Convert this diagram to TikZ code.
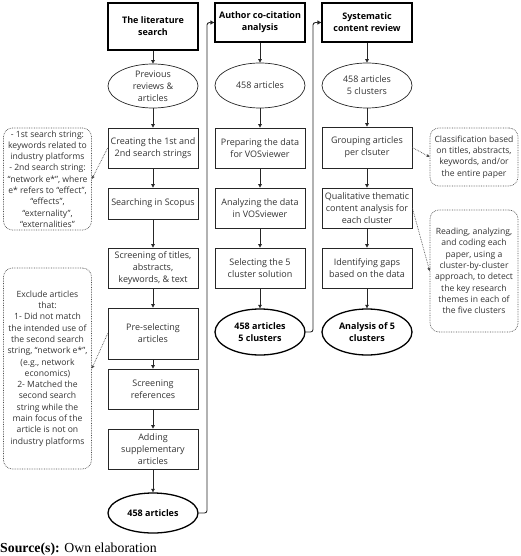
\documentclass[tikz,border=0pt]{standalone}
\usepackage{fontspec}
\setmainfont{Open Sans}
\newfontfamily\srcfont{Liberation Serif}
\usetikzlibrary{shapes.geometric,arrows.meta}
\begin{document}
\begin{tikzpicture}[x=1pt,y=-1pt,
  every node/.style={text=black!80},
  box/.style={draw=black!85, line width=0.7pt, minimum width=90pt, align=center, inner sep=1pt, font=\fontsize{9}{12}\selectfont},
  titlebox/.style={box, draw=black, line width=1.3pt, text=black, font=\fontsize{9}{12}\selectfont\bfseries},
  oval/.style={ellipse, draw=black!85, line width=0.7pt, minimum width=90pt, inner sep=0pt, align=center, font=\fontsize{9}{12}\selectfont},
  bigoval/.style={oval, draw=black, line width=1.3pt, text=black, font=\fontsize{9}{12}\selectfont\bfseries},
  note/.style={draw=black!70, densely dotted, line width=0.7pt, rounded corners=9pt, align=center, minimum width=88pt, inner sep=1pt, font=\fontsize{8.6}{11.3}\selectfont},
  flow/.style={draw=black!85, line width=0.7pt, -{Triangle[length=3.5pt,width=3.5pt]}},
  link/.style={draw=black!85, line width=0.9pt, rounded corners=2.5pt, -{Triangle[length=4pt,width=4pt]}},
  ref/.style={draw=black!70, densely dotted, line width=0.7pt, -{Triangle[length=3pt,width=3pt]}}
]
\useasboundingbox (0,0) rectangle (520,556);

% column 1
\node[titlebox, minimum height=47pt] (t1) at (153,26.5) {The literature\\search};
\node[oval, minimum height=44pt] (e11) at (153,86) {Previous\\reviews \&\\articles};
\node[box, minimum height=40pt] (b11) at (153,148) {Creating the 1st and\\2nd search strings};
\node[box, minimum height=31pt] (b12) at (153,203.5) {Searching in Scopus};
\node[box, minimum height=40pt] (b13) at (153,268) {Screening of titles,\\abstracts,\\keywords, \& text};
\node[box, minimum height=51pt] (b14) at (153,333.5) {Pre-selecting\\articles};
\node[box, minimum height=40pt] (b15) at (153,389) {Screening\\references};
\node[box, minimum height=40pt] (b16) at (153,449) {Adding\\supplementary\\articles};
\node[bigoval, minimum height=40pt] (e12) at (153,513) {458 articles};

% column 2
\node[titlebox, minimum height=39pt] (t2) at (260,22.5) {Author co-citation\\analysis};
\node[oval, minimum height=45pt] (e21) at (260,85.5) {458 articles};
\node[box, minimum height=40pt] (b21) at (260,148) {Preparing the data\\for VOSviewer};
\node[box, minimum height=40pt] (b22) at (260,208) {Analyzing the data\\in VOSviewer};
\node[box, minimum height=40pt] (b23) at (260,268) {Selecting the 5\\cluster solution};
\node[bigoval, minimum height=46pt] (e22) at (260,332) {458 articles\\5 clusters};

% column 3
\node[titlebox, minimum height=39pt] (t3) at (367,22.5) {Systematic\\content review};
\node[oval, minimum height=45pt] (e31) at (367,85.5) {458 articles\\5 clusters};
\node[box, minimum height=41pt] (b31) at (367,147.5) {Grouping articles\\per clsuter};
\node[box, minimum height=40pt] (b32) at (367,208) {Qualitative thematic\\content analysis for\\each cluster};
\node[box, minimum height=40pt] (b33) at (367,268) {Identifying gaps\\based on the data};
\node[bigoval, minimum height=46pt] (e32) at (367,332) {Analysis of 5\\clusters};

% notes
\node[note, minimum height=102pt] (n1) at (47.5,179) {- 1st search string:\\keywords related to\\industry platforms\\- 2nd search string:\\“network e*”, where\\e* refers to “effect”,\\“effects”,\\“externality”,\\“externalities”};
\node[note, minimum height=201pt] (n2) at (47.5,368.5) {Exclude articles\\that:\\1- Did not match\\the intended use of\\the second search\\string, “network e*”,\\(e.g., network\\economics)\\2- Matched the\\second search\\string while the\\main focus of the\\article is not on\\industry platforms};
\node[note, minimum height=58pt] (n3) at (474,157) {Classification based\\on titles, abstracts,\\keywords, and/or\\the entire paper};
\node[note, minimum height=122pt] (n4) at (474,271) {Reading, analyzing,\\and coding each\\paper, using a\\cluster-by-cluster\\approach, to detect\\the key research\\themes in each of\\the five clusters};

% flows
\foreach \a/\b in {t1/e11,e11/b11,b11/b12,b12/b13,b13/b14,b14/b15,b15/b16,b16/e12,
                   t2/e21,e21/b21,b21/b22,b22/b23,b23/e22,
                   t3/e31,e31/b31,b31/b32,b32/b33,b33/e32}
  \draw[flow] (\a) -- (\b);

\coordinate (c1) at (207,513);
\coordinate (c2) at (207,22.5);
\draw[link] (e12.east) -- (c1) -- (c2) -- (t2.west);
\coordinate (c3) at (313,332);
\coordinate (c4) at (313,22.5);
\draw[link] (e22.east) -- (c3) -- (c4) -- (t3.west);

\draw[ref] (b11.west) -- (n1.east);
\draw[ref] (b14.west) -- (n2.east);
\draw[ref] (b31.east) -- (n3.west);
\draw[ref] (b32.east) -- (n4.west);

\node[anchor=base west, inner sep=0pt, text=black, font=\srcfont\fontsize{13.8}{16}\selectfont] (src) at (0,552) {\textbf{Source(s):} Own elaboration};
\end{tikzpicture}
\end{document}
